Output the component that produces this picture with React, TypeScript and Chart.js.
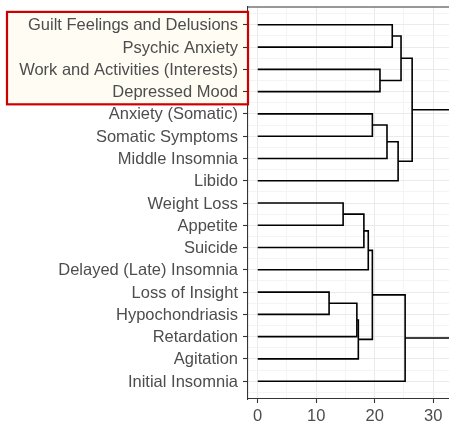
import React, { useEffect, useRef } from "react";
import { Chart, registerables } from "chart.js";

Chart.register(...registerables);

// Leaves, top to bottom
const leafLabels = [
  "Guilt Feelings and Delusions",
  "Psychic Anxiety",
  "Work and Activities (Interests)",
  "Depressed Mood",
  "Anxiety (Somatic)",
  "Somatic Symptoms",
  "Middle Insomnia",
  "Libido",
  "Weight Loss",
  "Appetite",
  "Suicide",
  "Delayed (Late) Insomnia",
  "Loss of Insight",
  "Hypochondriasis",
  "Retardation",
  "Agitation",
  "Initial Insomnia",
];

// hclust-style merges: negative = leaf -(index+1), positive = earlier merge (1-based)
const mergeLeft = [-13, -9, 1, 3, 2, 5, -5, 6, -3, 7, -1, 10, 11, 8, 13, 15];
const mergeRight = [-14, -10, -15, -16, -11, -12, -6, 4, -4, -7, -2, -8, 9, -17, 12, 14];
const mergeHeight = [12.2, 14.6, 16.95, 17.2, 18.15, 18.9, 19.6, 19.6, 20.9, 22.1, 23.0, 24.0, 24.5, 25.2, 26.4, 33.2];

const xTickValues = [0, 5, 10, 15, 20, 25, 30];
const xTickLabels = ["0", "", "10", "", "20", "", "30"];

// highlighted leaves (first..last index)
const highlightFirst = 0;
const highlightLast = 3;

const FONT = "'Liberation Sans', Arial, Helvetica, sans-serif";

function buildDatasets() {
  const nodeX: number[] = [];
  const nodeY: number[] = [];
  const pos = (ref: number) =>
    ref < 0 ? { x: 0, y: -ref - 1 } : { x: nodeX[ref - 1], y: nodeY[ref - 1] };
  const datasets: any[] = [];
  for (let k = 0; k < mergeHeight.length; k++) {
    const a = pos(mergeLeft[k]);
    const b = pos(mergeRight[k]);
    const h = mergeHeight[k];
    nodeX.push(h);
    nodeY.push((a.y + b.y) / 2);
    datasets.push({
      data: [
        { x: a.x, y: a.y },
        { x: h, y: a.y },
        { x: h, y: b.y },
        { x: b.x, y: b.y },
      ],
      showLine: true,
      borderColor: "#000000",
      borderWidth: 1.6,
      pointRadius: 0,
      tension: 0,
      fill: false,
    });
  }
  return datasets;
}

function boxRect(chart: any) {
  const { chartArea, scales } = chart;
  const yTop = scales.y.getPixelForValue(highlightFirst - 0.58);
  const yBot = scales.y.getPixelForValue(highlightLast + 0.57);
  const xL = 7;
  const xR = chartArea.left;
  return { xL, xR, yTop, yBot };
}

const overlayPlugin = {
  id: "overlay",
  beforeDraw(chart: any) {
    const { ctx } = chart;
    const r = boxRect(chart);
    ctx.save();
    ctx.fillStyle = "#FFFCF4";
    ctx.fillRect(r.xL, r.yTop, r.xR - r.xL, r.yBot - r.yTop);
    ctx.restore();
  },
  afterDraw(chart: any) {
    const { ctx, chartArea } = chart;
    ctx.save();
    ctx.strokeStyle = "#333333";
    ctx.lineWidth = 1.1;
    ctx.beginPath();
    ctx.moveTo(chartArea.left, chartArea.top);
    ctx.lineTo(chartArea.right, chartArea.top);
    ctx.stroke();

    const r = boxRect(chart);
    ctx.strokeStyle = "#CC0000";
    ctx.lineWidth = 2.2;
    ctx.strokeRect(r.xL, r.yTop, r.xR - r.xL, r.yBot - r.yTop);
    ctx.restore();
  },
};

export default function App() {
  const ref = useRef<HTMLCanvasElement | null>(null);
  useEffect(() => {
    if (!ref.current) return;
    const yTicks: number[] = [];
    for (let v = -0.5; v <= leafLabels.length - 0.5 + 1e-9; v += 0.5) yTicks.push(v);
    const chart = new Chart(ref.current, {
      type: "scatter",
      data: { datasets: buildDatasets() },
      plugins: [overlayPlugin],
      options: {
        animation: false,
        responsive: false,
        devicePixelRatio: 1,
        layout: { padding: { top: 7, left: 0, right: 0, bottom: 0 } },
        plugins: { legend: { display: false }, tooltip: { enabled: false } },
        scales: {
          x: {
            type: "linear",
            min: -1.66,
            max: 32.7,
            afterBuildTicks: (axis: any) => {
              axis.ticks = xTickValues.map((v) => ({ value: v }));
            },
            afterFit: (scale: any) => {
              scale.height = 23;
              scale.paddingLeft = 0;
              scale.paddingRight = 0;
            },
            ticks: {
              autoSkip: false,
              includeBounds: false,
              maxRotation: 0,
              padding: 4,
              color: "#4D4D4D",
              font: { family: FONT, size: 16.5 },
              callback: (v: any) => {
                const i = xTickValues.indexOf(Number(v));
                return i >= 0 ? xTickLabels[i] : "";
              },
            },
            grid: {
              color: (c: any) => (c.tick && c.tick.value % 10 === 0 ? "#EBEBEB" : "#F4F4F4"),
              lineWidth: 1,
              tickLength: 4,
              tickColor: (c: any) => (c.tick && c.tick.value % 10 === 0 ? "#333333" : "rgba(0,0,0,0)"),
              tickWidth: 1.1,
            },
            border: { display: true, color: "#333333", width: 1.1 },
          },
          y: {
            type: "linear",
            reverse: true,
            min: -0.8,
            max: leafLabels.length - 1 + 0.8,
            afterBuildTicks: (axis: any) => {
              axis.ticks = yTicks.map((v) => ({ value: v }));
            },
            afterFit: (scale: any) => {
              scale.width = 248;
              scale.paddingTop = 0;
              scale.paddingBottom = 0;
            },
            ticks: {
              autoSkip: false,
              includeBounds: false,
              padding: 5,
              labelOffset: 1,
              color: "#4D4D4D",
              font: { family: FONT, size: 16.5 },
              callback: (v: any) => {
                const n = Number(v);
                return Number.isInteger(n) && n >= 0 && n < leafLabels.length ? leafLabels[n] : "";
              },
            },
            grid: {
              color: (c: any) => (c.tick && Number.isInteger(c.tick.value) ? "#EBEBEB" : "#F4F4F4"),
              lineWidth: 1,
              tickLength: 5,
              tickColor: (c: any) => (c.tick && Number.isInteger(c.tick.value) ? "#333333" : "rgba(0,0,0,0)"),
              tickWidth: 1.1,
            },
            border: { display: true, color: "#333333", width: 1.1 },
          },
        },
      } as any,
    });
    return () => chart.destroy();
  }, []);
  return (
    <div style={{ position: "fixed", left: 0, top: 0, width: 449, height: 422, background: "#FFFFFF" }}>
      <canvas ref={ref} width={449} height={422} style={{ display: "block", width: 449, height: 422 }} />
    </div>
  );
}
